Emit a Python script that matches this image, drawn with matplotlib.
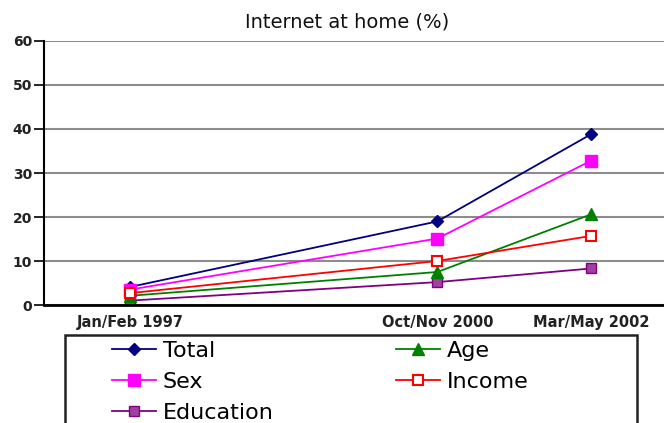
import matplotlib.pyplot as plt
from matplotlib.patches import Rectangle

surveys = ["Jan/Feb 1997", "Oct/Nov 2000", "Mar/May 2002"]
survey_pos = [0, 2, 3]

total = [4.1, 19.0, 38.8]
sex = [3.5, 15.1, 32.8]
age = [2.1, 7.5, 20.6]
income = [2.7, 10.0, 15.7]
education = [1.0, 5.2, 8.3]

fig = plt.figure(figsize=(6.64, 4.23), dpi=100)
ax = fig.add_axes([44 / 664, 1 - 305 / 423, 1 - 44 / 664, (305 - 41) / 423])

ax.plot(survey_pos, total, color="#000080", marker="D", markersize=6, lw=1.3, label="Total")
ax.plot(survey_pos, sex, color="#ff00ff", marker="s", markersize=8, lw=1.3, label="Sex")
ax.plot(survey_pos, education, color="#800080", marker="s", markersize=7, lw=1.3,
        markerfacecolor="#a040a0", markeredgecolor="#800080", label="Education")
ax.plot(survey_pos, age, color="#008000", marker="^", markersize=8, lw=1.3, label="Age")
ax.plot(survey_pos, income, color="#ff0000", marker="s", markersize=7, lw=1.3,
        markerfacecolor="white", markeredgewidth=1.5, label="Income")

ax.set_ylim(0, 60)
ax.set_xlim(-0.56, 3.475)
ax.set_yticks(range(0, 61, 10))
ax.set_xticks(survey_pos)
ax.set_xticklabels(surveys, fontsize=10.5, fontweight="bold", color="#222222")
ax.tick_params(axis="x", length=0, pad=7)
ax.tick_params(axis="y", direction="out", length=7, width=1.2, pad=1.5)
for lbl in ax.get_yticklabels():
    lbl.set_fontsize(10)
    lbl.set_fontweight("bold")
    lbl.set_color("#222222")
ax.grid(axis="y", color="#8c8c8c", lw=1.5)
ax.set_axisbelow(True)
for s in ["top", "right"]:
    ax.spines[s].set_visible(False)
ax.spines["left"].set_linewidth(1.5)
ax.spines["bottom"].set_linewidth(2)

fig.text(347 / 664, 1 - 22 / 423, "Internet at home (%)", ha="center", va="center",
         fontsize=14, color="#111111")

# legend box (bottom runs off the figure like the original)
fig.patches.append(Rectangle((65 / 664, -0.05), (637 - 65) / 664, (1 - 335 / 423) + 0.05,
                             transform=fig.transFigure, fill=False, edgecolor="#222222", lw=1.8))
leg = fig.legend(loc="upper left", bbox_to_anchor=(105 / 664, 1 - 334 / 423), ncol=2,
                 frameon=False, prop={"size": 16}, borderaxespad=0,
                 handlelength=2.0, handletextpad=0.3, labelspacing=0.5, columnspacing=5.5,
                 borderpad=0.3)

fig.savefig("out.png", dpi=100)
